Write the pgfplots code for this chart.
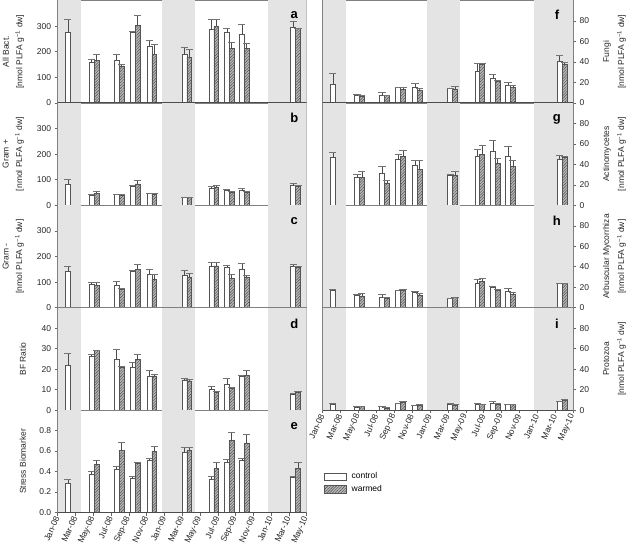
\documentclass[border=0pt]{standalone}
\usepackage{fontspec}
\setmainfont{Liberation Sans}
\usepackage{pgfplots}
\pgfplotsset{compat=1.18}
\usepackage{pgfplotstable}
\usetikzlibrary{patterns.meta}

\definecolor{bgshade}{gray}{0.895}
\definecolor{edge}{gray}{0.33}
\definecolor{wfill}{gray}{0.72}
\definecolor{hatch}{gray}{0.30}
\newcommand\fs{\fontsize{8.5}{10}\selectfont}
\newcommand\fl{\fontsize{8.5}{13.5}\selectfont}
\newcommand\shades{%
  \fill[bgshade] (rel axis cs:0,0) rectangle (rel axis cs:0.0946,1);
  \fill[bgshade] (rel axis cs:0.418,0) rectangle (rel axis cs:0.550,1);
  \fill[bgshade] (rel axis cs:0.8446,0) rectangle (rel axis cs:1,1);}
\newcommand\zeroline{\draw[black!70, line width=0.9pt] (rel axis cs:0,0) -- (rel axis cs:1,0);}
\tikzset{letter/.style={font=\fontsize{13}{13}\selectfont\bfseries}}

\pgfplotsset{
  panel/.style={scale only axis, height=102.4pt, anchor=north west,
    xmin=0, xmax=28, ymin=0, axis line style={draw=black!50, line width=0.5pt},
    tick align=outside, major tick length=3pt,
    tick style={black!60, line width=0.5pt},
    xtick=\empty, clip=true,
    ticklabel style={font=\fs, text=black!85},
    /pgf/number format/assume math mode=true},
  leftp/.style={panel, width=249pt, ytick pos=left},
  rightp/.style={panel, width=250.5pt, ytick pos=right, yticklabel pos=right,
    ymax=100, ytick={0,20,40,60,80},
    every axis y label/.style={at={(axis description cs:1.165,0.5)}, rotate=90, anchor=center, align=center, font=\fontsize{8.5}{15}\selectfont, text=black!85}},
  ylab2/.style={every axis y label/.style={at={(axis description cs:-0.178,0.5)}, rotate=90, anchor=center, align=center, font=\fl, text=black!85}},
  ylab1/.style={every axis y label/.style={at={(axis description cs:-0.14,0.5)}, rotate=90, anchor=center, align=center, font=\fl, text=black!85}},
  bottomx/.style={xtick={0,2,...,28}, xtick pos=bottom,
    xticklabels={Jan-08,Mar-08,May-08,Jul-08,Sep-08,Nov-08,Jan-09,Mar-09,May-09,Jul-09,Sep-09,Nov-09,Jan-10,Mar-10,May-10},
    xticklabel style={rotate=66, anchor=east, font=\fs, inner sep=1.5pt}},
  ctrl/.style={ybar, bar width=0.545, bar shift=0pt, fill=white, draw=edge, line width=0.5pt,
    /pgfplots/error bars/y dir=plus, /pgfplots/error bars/y explicit,
    /pgfplots/error bars/error bar style={line width=0.6pt, draw=black!70},
    /pgfplots/error bars/error mark options={rotate=90, line width=0.6pt, draw=black!55, mark size=3.6pt}},
  warm/.style={ybar, bar width=0.545, bar shift=0pt, fill=wfill, draw=edge, line width=0.5pt,
    postaction={pattern={Lines[angle=45,distance=2pt,line width=0.45pt]}, pattern color=hatch},
    /pgfplots/error bars/y dir=plus, /pgfplots/error bars/y explicit,
    /pgfplots/error bars/error bar style={line width=0.6pt, draw=black!70},
    /pgfplots/error bars/error mark options={rotate=90, line width=0.6pt, draw=black!55, mark size=3.6pt}}
}
\newcommand\bars[1]{%
  \addplot[ctrl] table[x expr=\thisrow{m}-0.2725, y=c, y error=ce] {#1};
  \addplot[warm] table[x expr=\thisrow{m}+0.2725, y=w, y error=we] {#1};}

% m = date (months after 1 Jan 2008), c/ce = control mean/SE, w/we = warmed mean/SE
\pgfplotstableread{
m c ce w we
1.41 277 48 nan nan
4.105 159 12 167 22
6.90 166 23 145 6
8.705 277 3 304 38
10.58 221 25 190 38
14.52 189 27 178 30
17.55 286 40 299 27
19.295 275 16 212 26
20.98 268 40 212 19
26.75 296 21 290 3
}\tA
\pgfplotstableread{
m c ce w we
1.41 82 18 nan nan
4.105 40 3 47 6
6.90 43 1 40 2
8.705 74 4 84 12
10.58 47 1 44 3
14.52 31 2 31 2
17.55 65 10 72 7
19.295 57 6 50 6
20.98 57 8 51 4
26.75 77 7 76 2
}\tB
\pgfplotstableread{
m c ce w we
1.41 143 19 nan nan
4.105 92 8 88 11
6.90 88 14 71 6
8.705 144 2 150 20
10.58 132 17 110 22
14.52 128 18 118 18
17.55 160 19 163 15
19.295 158 8 115 16
20.98 152 23 120 6
26.75 163 6 157 3
}\tC
\pgfplotstableread{
m c ce w we
1.41 21.7 5.9 nan nan
4.105 26.2 1 29 0.3
6.90 25 4.5 20.8 0.4
8.705 21 2.5 24.6 2.5
10.58 16.7 2.7 16.7 0.8
14.52 14.4 1 14.3 0.6
17.55 10 1.6 8.6 0.4
19.295 12.4 3 10.8 0.3
20.98 16.5 0.4 17 2.4
26.75 7.6 0.4 8.5 0.5
}\tD
\pgfplotstableread{
m c ce w we
1.41 0.29 0.03 nan nan
4.105 0.377 0.03 0.468 0.045
6.90 0.42 0.03 0.606 0.075
8.705 0.33 0.02 0.477 0.015
10.58 0.506 0.025 0.60 0.05
14.52 0.59 0.05 0.606 0.035
17.55 0.326 0.03 0.43 0.06
19.295 0.49 0.026 0.703 0.077
20.98 0.51 0.015 0.68 0.087
26.75 0.34 0.01 0.43 0.057
}\tE
\pgfplotstableread{
m c ce w we
1.41 18.6 10 nan nan
4.105 7.7 0.7 6.8 0.3
6.90 7.7 2.3 7.1 0.6
8.705 15 0.3 13.2 1.8
10.58 14.8 4.2 11.9 2.6
14.52 14.1 0.4 13.2 3.2
17.55 30.5 7.8 37.6 1.3
19.295 24 4 21.2 1
20.98 17 3 14.8 2.2
26.75 40.8 5.8 37.6 2.3
}\tF
\pgfplotstableread{
m c ce w we
1.41 47.3 4.7 nan nan
4.105 27.3 3.2 27 5.8
6.90 31 7 21.9 2.9
8.705 44.7 5.1 47.9 5.5
10.58 39.2 4.8 35.4 8.3
14.52 29 1 29 3.8
17.55 48.2 6.1 49.5 9
19.295 52.4 11.3 41.2 4.8
20.98 48 9.2 38 6
26.75 45 3.9 46.6 1.6
}\tG
\pgfplotstableread{
m c ce w we
1.41 17.4 0.3 nan nan
4.105 12 0.6 11.6 2.3
6.90 10.3 2.3 9 1
8.705 16.8 0.6 17.4 0.6
10.58 15.5 0.3 12.6 1.6
14.52 9 0.4 10 0.6
17.55 23.5 4.2 25.8 2.6
19.295 20.3 0.7 17 1
20.98 15.8 2.9 13.2 1.6
26.75 23.9 0.3 23.5 0.7
}\tH
\pgfplotstableread{
m c ce w we
1.41 5.9 0.3 nan nan
4.105 2.9 0.4 3.9 0.3
6.90 3.3 0.2 2 0.6
8.705 6.5 0.5 7.5 1.5
10.58 4.6 0.3 5.2 0.7
14.52 6.2 0.7 5.2 0.7
17.55 5.9 0.3 5.6 0.3
19.295 6.5 2.5 5.6 0.6
20.98 5.6 0.3 5.6 0.3
26.75 8.2 0.3 9.8 0.7
}\tI

\begin{document}
\begin{tikzpicture}
\useasboundingbox (0,0) rectangle (627pt,-551pt);
% ---- left column ----
\begin{axis}[leftp, ylab2, at={(57.7pt,-0.5pt)}, ymax=400, ytick={0,100,200,300},
  ylabel={All Bact.\\{[}nmol PLFA g\textsuperscript{−1} dw{]}}]
\shades \bars{\tA} \zeroline
\node[letter] at (rel axis cs:0.95,0.86) {a};
\end{axis}
\begin{axis}[leftp, ylab2, at={(57.7pt,-102.9pt)}, ymax=400, ytick={0,100,200,300},
  ylabel={Gram +\\{[}nmol PLFA g\textsuperscript{−1} dw{]}}]
\shades \bars{\tB} \zeroline
\node[letter] at (rel axis cs:0.95,0.85) {b};
\end{axis}
\begin{axis}[leftp, ylab2, at={(57.7pt,-205.3pt)}, ymax=400, ytick={0,100,200,300},
  ylabel={Gram -\\{[}nmol PLFA g\textsuperscript{−1} dw{]}}]
\shades \bars{\tC} \zeroline
\node[letter] at (rel axis cs:0.95,0.85) {c};
\end{axis}
\begin{axis}[leftp, ylab1, at={(57.7pt,-307.7pt)}, ymax=50, ytick={0,10,20,30,40},
  ylabel={BF Ratio}]
\shades \bars{\tD} \zeroline
\node[letter] at (rel axis cs:0.95,0.84) {d};
\end{axis}
\begin{axis}[leftp, ylab1, bottomx, at={(57.7pt,-410.1pt)}, ymax=1, ytick={0,0.2,0.4,0.6,0.8},
  yticklabel style={/pgf/number format/.cd, fixed, fixed zerofill, precision=1},
  ylabel={Stress Biomarker}]
\shades \bars{\tE} \zeroline
\node[letter] at (rel axis cs:0.95,0.84) {e};
\end{axis}
% ---- right column ----
\begin{axis}[rightp, at={(322.7pt,-0.5pt)},
  ylabel={Fungi\\{[}nmol PLFA g\textsuperscript{−1} dw{]}}]
\shades \bars{\tF} \zeroline
\node[letter] at (rel axis cs:0.935,0.86) {f};
\end{axis}
\begin{axis}[rightp, at={(322.7pt,-102.9pt)},
  ylabel={Actinomycetes\\{[}nmol PLFA g\textsuperscript{−1} dw{]}}]
\shades \bars{\tG} \zeroline
\node[letter] at (rel axis cs:0.935,0.84) {g};
\end{axis}
\begin{axis}[rightp, at={(322.7pt,-205.3pt)},
  ylabel={Arbuscular Mycorrhiza\\{[}nmol PLFA g\textsuperscript{−1} dw{]}}]
\shades \bars{\tH} \zeroline
\node[letter] at (rel axis cs:0.935,0.85) {h};
\end{axis}
\begin{axis}[rightp, bottomx, at={(322.7pt,-307.7pt)},
  ylabel={Protozoa\\{[}nmol PLFA g\textsuperscript{−1} dw{]}},
  legend style={at={(axis description cs:0.005,-0.6)}, anchor=north west, draw=none, fill=none,
    font=\fs, row sep=3pt, inner sep=0pt, nodes={inner sep=1pt}},
  legend cell align=left,
  legend image code/.code={\draw[#1] (0pt,-3.6pt) rectangle (22pt,3.6pt); \path (26pt,0pt);}]
\shades
\addplot[ctrl] table[x expr=\thisrow{m}-0.2725, y=c, y error=ce] {\tI};
\addlegendentry{control}
\addplot[warm] table[x expr=\thisrow{m}+0.2725, y=w, y error=we] {\tI};
\addlegendentry{warmed}
\zeroline
\node[letter] at (rel axis cs:0.935,0.84) {i};
\end{axis}
\end{tikzpicture}
\end{document}
